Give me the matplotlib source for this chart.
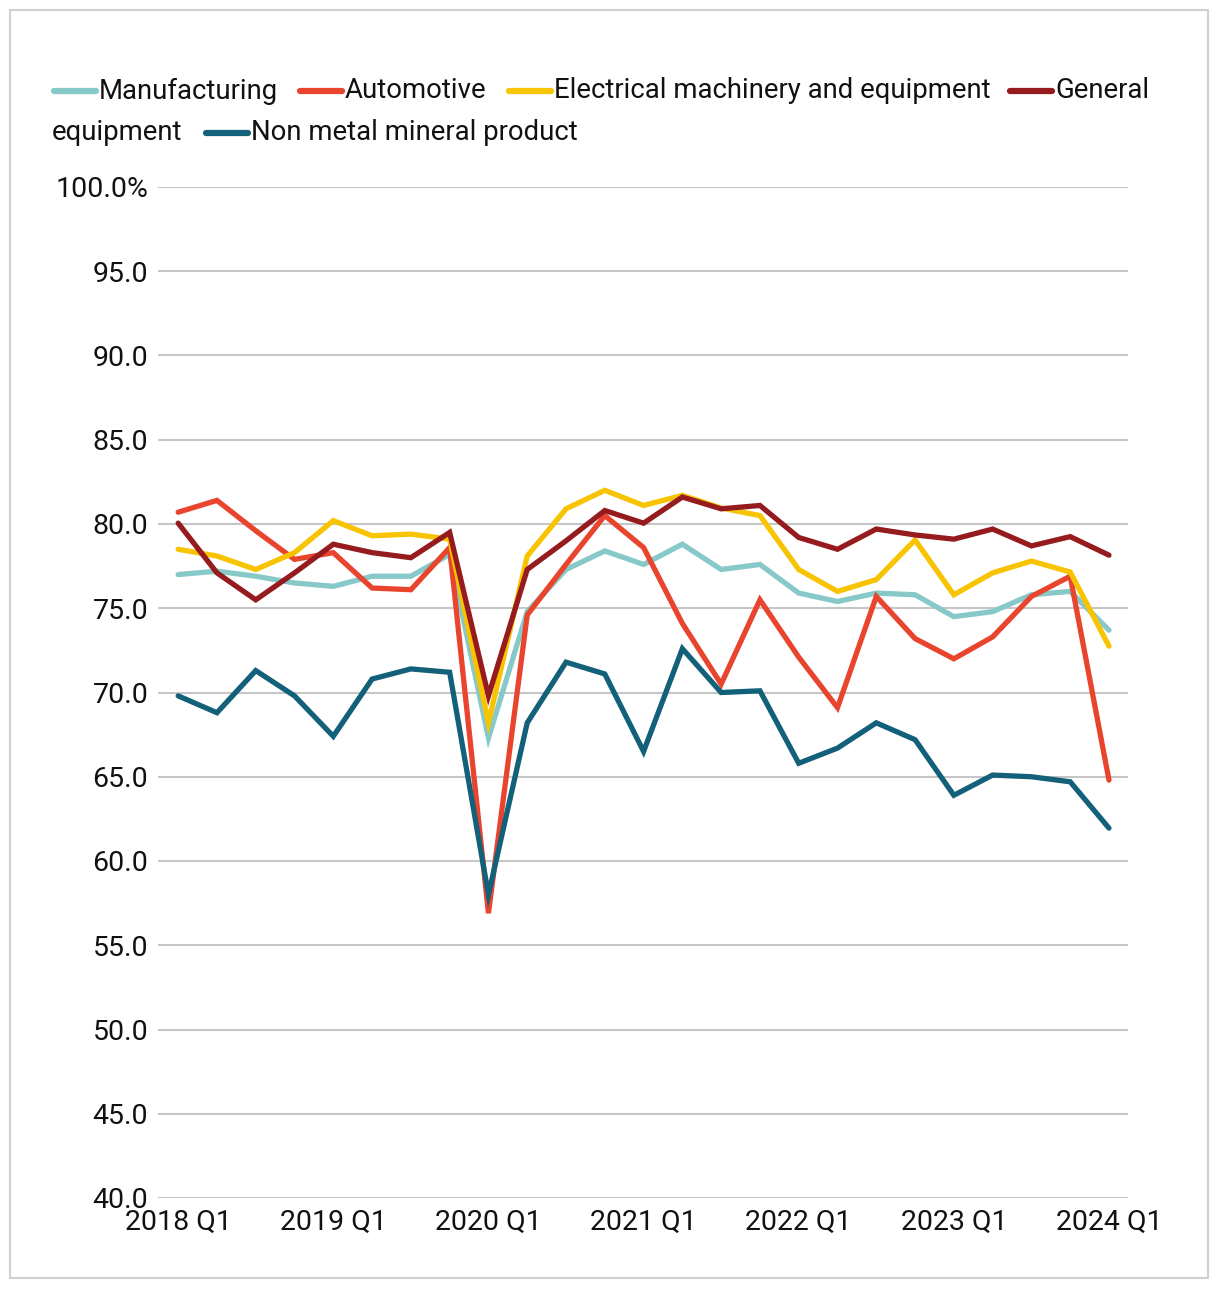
import matplotlib
matplotlib.use("Agg")
import matplotlib.pyplot as plt
from matplotlib.lines import Line2D
from matplotlib.patches import Rectangle
import numpy as np

plt.rcParams['font.family'] = ['Roboto', 'DejaVu Sans']

quarters = [f"{y} Q{q}" for y in range(2018, 2025) for q in range(1, 5)][:25]

series_names = ["Manufacturing", "Automotive", "Electrical machinery and equipment",
                "General equipment", "Non metal mineral product"]
colors = ["#86C9C8", "#E8442E", "#F8C300", "#951B1E", "#13607A"]

manufacturing = [77.0, 77.2, 76.9, 76.5, 76.3, 76.9, 76.9, 78.2,
                 67.3, 74.8, 77.3, 78.4, 77.6, 78.8, 77.3, 77.6,
                 75.9, 75.4, 75.9, 75.8, 74.5, 74.8, 75.8, 76.0, 73.7]
automotive = [80.7, 81.4, 79.6, 77.9, 78.3, 76.2, 76.1, 78.6,
              56.9, 74.6, 77.6, 80.5, 78.6, 74.1, 70.5, 75.5,
              72.1, 69.1, 75.7, 73.2, 72.0, 73.3, 75.7, 76.9, 64.8]
electrical = [78.5, 78.1, 77.3, 78.3, 80.2, 79.3, 79.4, 79.1,
              68.2, 78.1, 80.9, 82.0, 81.1, 81.7, 80.95, 80.5,
              77.3, 76.0, 76.7, 79.05, 75.8, 77.1, 77.8, 77.15, 72.75]
general = [80.05, 77.1, 75.5, 77.1, 78.8, 78.3, 78.0, 79.5,
           69.8, 77.3, 79.0, 80.8, 80.05, 81.6, 80.9, 81.1,
           79.2, 78.5, 79.7, 79.35, 79.1, 79.7, 78.7, 79.25, 78.15]
non_metal = [69.8, 68.8, 71.3, 69.8, 67.4, 70.8, 71.4, 71.2,
             58.0, 68.2, 71.8, 71.1, 66.5, 72.6, 70.0, 70.1,
             65.8, 66.7, 68.2, 67.2, 63.9, 65.1, 65.0, 64.7, 61.95]

data = [manufacturing, automotive, electrical, general, non_metal]

yticks = [40, 45, 50, 55, 60, 65, 70, 75, 80, 85, 90, 95, 100]
ytick_labels = [f"{v:.1f}" for v in yticks[:-1]] + ["100.0%"]
xtick_idx = list(range(0, 25, 4))

W, H = 1220, 1290
fig = plt.figure(figsize=(W / 100, H / 100), dpi=100)
ax = fig.add_axes([158 / W, 1 - 1198 / H, (1128 - 158) / W, (1198 - 187) / H])

x = np.arange(len(quarters))
for vals, c in zip(data, colors):
    ax.plot(x, vals, color=c, lw=3.8, solid_joinstyle='miter', solid_capstyle='round', zorder=3)

ax.set_ylim(40, 100)
ax.set_xlim(-0.52, 24.49)
ax.set_yticks(yticks)
ax.set_yticklabels(ytick_labels)
ax.set_xticks(xtick_idx)
ax.set_xticklabels([quarters[i] for i in xtick_idx])
ax.grid(axis='y', color='#c6c6c6', lw=1.5, zorder=0)
ax.grid(axis='x', visible=False)
for s in ax.spines.values():
    s.set_visible(False)
ax.tick_params(axis='both', length=0, labelsize=20.5, colors='#111111')
ax.tick_params(axis='y', pad=7)
ax.tick_params(axis='x', pad=8)

# outer border
fig.add_artist(Rectangle((10 / W, 1 - 1278 / H), (1208 - 10) / W, (1278 - 10) / H,
                         transform=fig.transFigure, fill=False, edgecolor='#cfcfcf', lw=1.5))

# manual legend
FS = 19.8
def leg_entry(x0, y, color, label):
    fig.add_artist(Line2D([x0 / W, (x0 + 42) / W], [1 - y / H, 1 - y / H],
                          transform=fig.transFigure, color=color, lw=4.5,
                          solid_capstyle='round'))
    if label:
        fig.text((x0 + 45) / W, 1 - y / H, label, fontsize=FS, va='center', ha='left',
                 color='#111111')

row1, row2 = 91, 133
leg_entry(54, row1, colors[0], series_names[0])
leg_entry(300, row1, colors[1], series_names[1])
leg_entry(509, row1, colors[2], series_names[2])
gen_words = series_names[3].split(" ")
leg_entry(1010, row1, colors[3], gen_words[0])
fig.text(52 / W, 1 - row2 / H, " ".join(gen_words[1:]), fontsize=FS, va='center', ha='left',
         color='#111111')
leg_entry(206, row2, colors[4], series_names[4])

fig.savefig("out.png", dpi=100)
